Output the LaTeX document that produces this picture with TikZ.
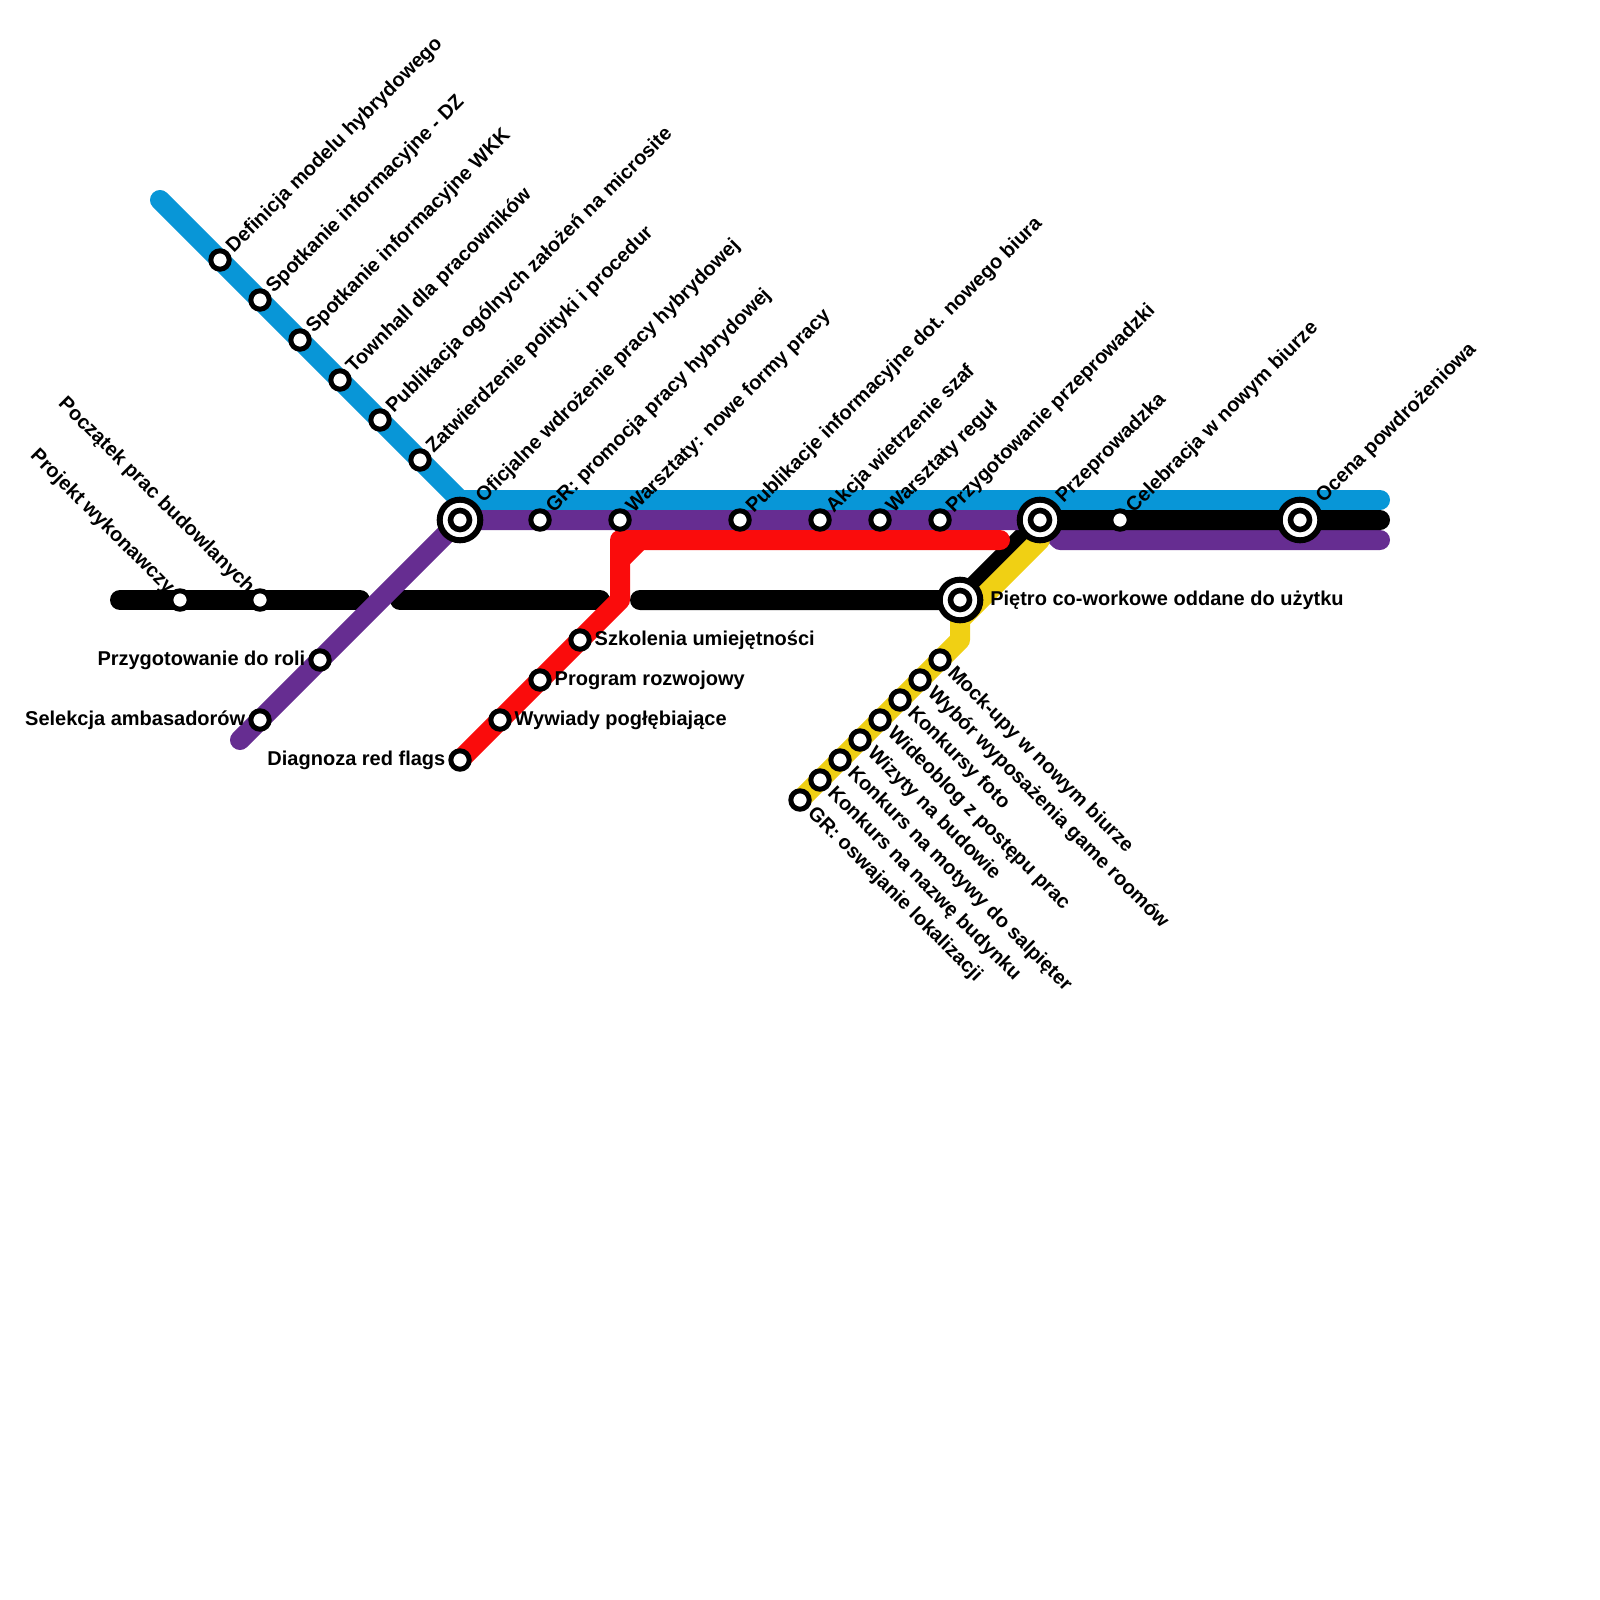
\documentclass[tikz,border=0pt]{standalone}
\usepackage{fontspec}
\setmainfont{Liberation Sans}
\usetikzlibrary{backgrounds}
\definecolor{bluetrack}{RGB}{8,150,215}
\definecolor{purpletrack}{RGB}{102,45,145}
\definecolor{redtrack}{RGB}{250,12,12}
\definecolor{yellowtrack}{RGB}{240,208,20}
\tikzstyle{track} = [line width=10pt,line cap=round,line join=round]
\tikzstyle{station} = [circle, draw=black, fill=white, line width=2.5pt, minimum size=9.2pt, inner sep=0pt]
\tikzstyle{hub} = [circle, draw=black, fill=white, line width=3pt, minimum size=20.3pt, inner sep=0pt]
\tikzstyle{hubcore} = [circle, draw=black, fill=white, line width=2.8pt, minimum size=9.5pt, inner sep=0pt]
\tikzstyle{lbl} = [font=\bfseries\fontsize{10pt}{12pt}\selectfont, inner sep=0pt, outer sep=0pt]
\tikzstyle{lblup} = [lbl, xshift=1pt, yshift=0.8pt, rotate=45, anchor=west]
\tikzstyle{lblhub} = [lbl, xshift=1.7pt, yshift=1.8pt, rotate=45, anchor=west]
\tikzstyle{lbldown} = [lbl, xshift=1.1pt, yshift=-1.1pt, rotate=-45, anchor=west]
\tikzstyle{lblback} = [lbl, xshift=-0.5pt, yshift=0.5pt, rotate=-45, anchor=east]
\tikzstyle{lblright} = [lbl, anchor=west, xshift=1.5pt]
\tikzstyle{lblleft} = [lbl, anchor=east, xshift=-1.5pt]
\begin{document}
\begin{tikzpicture}[x=0.5pt,y=-0.5pt]
\useasboundingbox (0,0) rectangle (1600,1600);

% Track ends and bends
\coordinate (blueA) at (160,200);
\coordinate (blueB) at (460,500);
\coordinate (blueC) at (1380,500);
\coordinate (purpleA) at (240,740);
\coordinate (purpleB) at (1060,540);
\coordinate (purpleC) at (1380,540);
\coordinate (blackA) at (120,600);
\coordinate (blackB) at (360,600);
\coordinate (blackC) at (400,600);
\coordinate (blackD) at (600,600);
\coordinate (blackE) at (640,600);
\coordinate (blackF) at (1380,520);
\coordinate (redA) at (620,600);
\coordinate (redB) at (620,540);
\coordinate (redC) at (620,560);
\coordinate (redD) at (640,540);
\coordinate (redE) at (1000,540);
\coordinate (yellowA) at (1040,540);
\coordinate (yellowB) at (960,620);
\coordinate (yellowC) at (960,640);

% Hubs
\node (launch) [hub] at (460,520) {};
\node (launchcore) [hubcore] at (launch) {};
\node (floor) [hub] at (960,600) {};
\node (floorcore) [hubcore] at (floor) {};
\node (moving) [hub] at (1040,520) {};
\node (movingcore) [hubcore] at (moving) {};
\node (review) [hub] at (1300,520) {};
\node (reviewcore) [hubcore] at (review) {};

% Stations
\node (model) [station] at (220,260) {};
\node (meetdz) [station] at (260,300) {};
\node (meetwkk) [station] at (300,340) {};
\node (townhall) [station] at (340,380) {};
\node (microsite) [station] at (380,420) {};
\node (policy) [station] at (420,460) {};
\node (promo) [station] at (540,520) {};
\node (workshops) [station] at (620,520) {};
\node (publish) [station] at (740,520) {};
\node (wardrobe) [station] at (820,520) {};
\node (rules) [station] at (880,520) {};
\node (prepare) [station] at (940,520) {};
\node (party) [station] at (1120,520) {};
\node (design) [station] at (180,600) {};
\node (build) [station] at (260,600) {};
\node (roles) [station] at (320,660) {};
\node (envoys) [station] at (260,720) {};
\node (skills) [station] at (580,640) {};
\node (growth) [station] at (540,680) {};
\node (talks) [station] at (500,720) {};
\node (flags) [station] at (460,760) {};
\node (mockup) [station] at (940,660) {};
\node (gameroom) [station] at (920,680) {};
\node (photo) [station] at (900,700) {};
\node (vlog) [station] at (880,720) {};
\node (visits) [station] at (860,740) {};
\node (motifs) [station] at (840,760) {};
\node (naming) [station] at (820,780) {};
\node (place) [station] at (800,800) {};

% Tracks
\begin{pgfonlayer}{background}
\draw [track, purpletrack] (moving.center) -- (purpleB) -- (purpleC);
\draw [track, bluetrack] (blueA) -- (blueB) -- (blueC);
\draw [track, black] (blackA) -- (blackB);
\draw [track, black] (blackC) -- (blackD);
\draw [track, black] (blackE) -- (floor.center) -- (moving.center) -- (blackF);
\draw [track, purpletrack] (purpleA) -- (launch.center) -- (moving.center);
\draw [track, redtrack] (flags.center) -- (redA) -- (redB) -- (redE);
\draw [track, redtrack] (redC) -- (redD);
\draw [track, yellowtrack] (place.center) -- (yellowC) -- (yellowB) -- (yellowA);
\end{pgfonlayer}

% Labels
\node (modellbl) [lblup] at (model.north east) {Definicja modelu hybrydowego};
\node (meetdzlbl) [lblup] at (meetdz.north east) {Spotkanie informacyjne - DZ};
\node (meetwkklbl) [lblup] at (meetwkk.north east) {Spotkanie informacyjne WKK};
\node (townhalllbl) [lblup] at (townhall.north east) {Townhall dla pracowników};
\node (micrositelbl) [lblup] at (microsite.north east) {Publikacja ogólnych założeń na microsite};
\node (policylbl) [lblup] at (policy.north east) {Zatwierdzenie polityki i procedur};
\node (launchlbl) [lblhub] at (launch.north east) {Oficjalne wdrożenie pracy hybrydowej};
\node (promolbl) [lblup] at (promo.north east) {GR: promocja pracy hybrydowej};
\node (workshopslbl) [lblup] at (workshops.north east) {Warsztaty: nowe formy pracy};
\node (publishlbl) [lblup] at (publish.north east) {Publikacje informacyjne dot. nowego biura};
\node (wardrobelbl) [lblup] at (wardrobe.north east) {Akcja wietrzenie szaf};
\node (ruleslbl) [lblup] at (rules.north east) {Warsztaty reguł};
\node (preparelbl) [lblup] at (prepare.north east) {Przygotowanie przeprowadzki};
\node (movinglbl) [lblhub] at (moving.north east) {Przeprowadzka};
\node (partylbl) [lblup] at (party.north east) {Celebracja w nowym biurze};
\node (reviewlbl) [lblhub] at (review.north east) {Ocena powdrożeniowa};
\node (designlbl) [lblback] at (design.north west) {Projekt wykonawczy};
\node (buildlbl) [lblback] at (build.north west) {Początek prac budowlanych};
\node (roleslbl) [lblleft] at (roles.west) {Przygotowanie do roli};
\node (envoyslbl) [lblleft] at (envoys.west) {Selekcja ambasadorów};
\node (flagslbl) [lblleft] at (flags.west) {Diagnoza red flags};
\node (skillslbl) [lblright] at (skills.east) {Szkolenia umiejętności};
\node (growthlbl) [lblright] at (growth.east) {Program rozwojowy};
\node (talkslbl) [lblright] at (talks.east) {Wywiady pogłębiające};
\node (floorlbl) [lblright, xshift=2pt] at (floor.east) {Piętro co-workowe oddane do użytku};
\node (mockuplbl) [lbldown] at (mockup.south east) {Mock-upy w nowym biurze};
\node (gameroomlbl) [lbldown] at (gameroom.south east) {Wybór wyposażenia game roomów};
\node (photolbl) [lbldown] at (photo.south east) {Konkursy foto};
\node (vloglbl) [lbldown] at (vlog.south east) {Wideoblog z postępu prac};
\node (visitslbl) [lbldown] at (visits.south east) {Wizyty na budowie};
\node (motifslbl) [lbldown] at (motifs.south east) {Konkurs na motywy do salpięter};
\node (naminglbl) [lbldown] at (naming.south east) {Konkurs na nazwę budynku};
\node (placelbl) [lbldown] at (place.south east) {GR: oswajanie lokalizacji};
\end{tikzpicture}
\end{document}
